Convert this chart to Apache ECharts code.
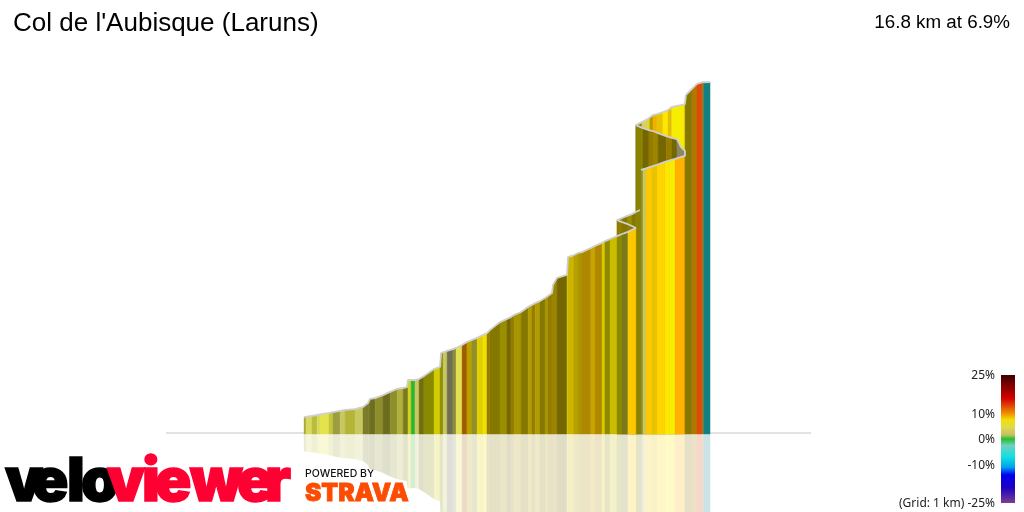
<!DOCTYPE html>
<html>
<head>
<meta charset="utf-8">
<style>html,body{margin:0;padding:0;background:#fff}#chart{width:1024px;height:512px}</style>
<script src="https://cdn.jsdelivr.net/npm/echarts@6/dist/echarts.min.js"></script>
</head>
<body>
<div id="chart"></div>
<script>
// ---- data: distance (km), elevation (m), grade tone per stripe ----
const titleText = "Col de l'Aubisque (Laruns)";
const summaryText = "16.8 km at 6.9%";
const legendLabels = ["25%", "10%", "0%", "-10%", "(Grid: 1 km) -25%"];
const legendGrades = [25, 10, 0, -10, -25];

const mainKm = [0,0.08,0.33,0.54,0.66,1.03,1.20,1.49,1.70,2.11,2.44,2.65,2.73,2.94,3.27,3.56,3.85,4.10,4.26,4.30,4.43,4.59,4.76,4.96,5.38,5.63,5.67,5.75,5.92,6.16,6.29,6.54,6.74,6.95,7.16,7.41,7.57,7.69,8.11,8.40,8.56,8.69,8.98,9.27,9.43,9.56,9.76,9.97,10.09,10.26,10.30,10.47,10.88,10.92,11.17,11.34,11.50,11.87,12.04,12.33,12.45,12.66,12.95,13.16,13.40,13.73];
const mainElev = [580,582,584,587,589,594,597,601,604,607,614,627,641,644,654,665,675,678,681,705,705,705,708,718,742,749,796,799,803,809,813,823,833,840,847,857,863,873,900,911,917,924,934,951,958,964,971,981,988,998,1025,1049,1059,1119,1126,1133,1136,1150,1157,1167,1173,1180,1190,1197,1204,1217];
const mainTone = [0,1,2,1,3,4,5,6,7,6,8,8,9,10,11,10,12,13,13,14,15,6,16,17,18,17,17,6,19,20,21,22,23,10,24,25,26,27,28,29,26,30,27,31,26,31,27,30,26,32,32,29,18,33,23,30,34,35,34,36,37,38,17,13,39];

const wedgeKm = [12.95,13.16,13.40,13.57,13.73,13.90];
const wedgeElev = [1244,1251,1259,1264,1271,1278];
const wedgeTone = [28,27,28,27,40];

const backKm = [12.95,13.16,13.40,13.57,13.73];
const backElev = [1244,1237,1230,1224,1217];
const backTone = [26,27,26,27];

const upperKm = [13.73,13.98,14.23,14.31,14.44,14.60,14.85,15.06,15.22,15.64,15.76];
const upperElev = [1564,1574,1585,1588,1598,1601,1608,1615,1625,1632,1635];
const upperTone = [40,41,42,31,43,44,45,46,47,45];

const foldKm = [13.73,14.02,14.27,14.44,14.65,14.98,15.22,15.43,15.60,15.76];
const foldElev = [1564,1554,1547,1544,1537,1527,1521,1517,1490,1477];
const foldTone = [40,29,26,32,29,26,29,48,48];

const lowerKm = [13.94,14.02,14.15,14.40,14.60,14.93,15.14,15.35,15.76];
const lowerElev = [1413,1414,1418,1425,1430,1440,1445,1450,1460];
const lowerTone = [10,6,39,44,50,45,47,49];

const topKm = [15.76,15.80,16.05,16.26,16.47,16.55,16.80];
const topElev = [1635,1665,1686,1703,1708,1709,1709];
const topTone = [27,27,51,52,53,54];

const flatKm = [-5.71,0,null,16.8,20.98];
const flatElev = [526,526,null,526,526];

// ---- styles ----
const baseElev = 523;
const palette = ['#a8a83a','#d6d860','#bcbc3c','#e3e44b','#c4c43e','#9c9c40','#c8c860','#b4b436','#7c7c2a','#6e6e22','#8e8e2c','#6c6c1e','#b0b040','#7a7a1c','#d4d420','#2cb534','#6e6e10','#8a8a00','#d2cc00','#6e6e50','#8c8c40','#e0e050','#a05a00','#b8a000','#e0d000','#f0e000','#957c00','#857800','#988e00','#746600','#a89600','#b09c00','#9c8600','#ccb400','#b08800','#c8a400','#d8c800','#908800','#ccbc00','#fcc800','#8a8200','#d8d060','#e8d800','#f0b000','#e8c400','#ffe600','#e0c000','#f5ee00','#8c8660','#ffb000','#ffd400','#b07800','#e04a08','#8a7a30','#128083'];
const gradientStops = [[0,'#3a0000'],[0.08,'#800000'],[0.18,'#d00000'],[0.235,'#e04000'],[0.30,'#f09000'],[0.35,'#f0e000'],[0.41,'#e0d850'],[0.47,'#c0c060'],[0.50,'#20c030'],[0.55,'#70d0c0'],[0.64,'#10e0e0'],[0.72,'#00a0f0'],[0.78,'#0000f0'],[0.88,'#2000c0'],[1,'#7b3f91']];
const logoLetters = [['v',5,'#000'],['e',32,'#000'],['l',67,'#000'],['o',81,'#000'],['v',107,'#ff0033'],['i',142,'#ff0033'],['e',155,'#ff0033'],['w',190,'#ff0033'],['e',237,'#ff0033'],['r',265,'#ff0033']];

function tint(hex, a) {
  const n = parseInt(hex.slice(1), 16);
  const m = c => Math.round(255 - (255 - c) * a);
  return 'rgb(' + m(n >> 16) + ',' + m((n >> 8) & 255) + ',' + m(n & 255) + ')';
}
function stripes(km, elev, tone) {
  return tone.map((t, i) => [km[i], km[i + 1], elev[i], elev[i + 1], t]);
}
function render(mirror) {
  return function (params, api) {
    const x0 = api.value(0), x1 = api.value(1);
    const e0 = api.value(2), e1 = api.value(3);
    const h = v => mirror ? 2 * baseElev - v : v;
    const col = palette[api.value(4)];
    const fill = mirror ? tint(col, 0.22) : col;
    return {
      type: 'polygon',
      shape: { points: [api.coord([x0, baseElev]), api.coord([x0, h(e0)]), api.coord([x1, h(e1)]), api.coord([x1, baseElev])] },
      style: { fill: fill, stroke: fill, lineWidth: 0.4 }
    };
  };
}
const passes = [
  ['wedge', wedgeKm, wedgeElev, wedgeTone],
  ['back', backKm, backElev, backTone],
  ['upper', upperKm, upperElev, upperTone],
  ['fold', foldKm, foldElev, foldTone],
  ['lower', lowerKm, lowerElev, lowerTone],
  ['main', mainKm, mainElev, mainTone],
  ['top', topKm, topElev, topTone]
];
function stripeSeries(p, mirror) {
  return {
    type: 'custom', name: p[0] + (mirror ? '-reflection' : ''), coordinateSystem: 'cartesian2d',
    renderItem: render(mirror), data: stripes(p[1], p[2], p[3]),
    encode: { x: [0, 1], y: [2, 3] }, silent: true, clip: true, z: mirror ? 1 : 2
  };
}
const pts = (k, e) => k.map((v, i) => [v, e[i]]);
const gap = [['-', '-']];
const outline = [].concat(
  pts(mainKm, mainElev), pts(backKm, backElev).reverse(), pts(wedgeKm, wedgeElev), gap,
  pts(lowerKm, lowerElev), pts(foldKm, foldElev).reverse(), pts(upperKm, upperElev), pts(topKm, topElev)
);

const legendY = g => 440 - g * 2.56;
const graphics = [
  { type: 'rect', shape: { x: 1001, y: 375, width: 14, height: 128 },
    style: { fill: new echarts.graphic.LinearGradient(0, 0, 0, 1, gradientStops.map(s => ({ offset: s[0], color: s[1] }))) } }
];
legendLabels.forEach((t, i) => graphics.push({
  type: 'text', x: 995, y: legendY(legendGrades[i]),
  style: { text: t, align: 'right', verticalAlign: 'middle', fill: '#222', font: '12px "Noto Sans"' }
}));
logoLetters.forEach(l => graphics.push({
  type: 'text', x: l[1], y: 483,
  style: { text: l[0], align: 'left', verticalAlign: 'middle', fill: l[2], stroke: l[2], lineWidth: 1.5, font: '900 60px Inter' }
}));
graphics.push({ type: 'text', x: 305, y: 474, style: { text: 'POWERED BY', align: 'left', verticalAlign: 'middle', fill: '#111', font: '500 10.5px Inter' } });
graphics.push({ type: 'text', x: 305, y: 494, style: { text: 'STRAVA', align: 'left', verticalAlign: 'middle', fill: '#fc4c02', stroke: '#fc4c02', lineWidth: 0.8, font: '900 24.5px Inter' } });

const chart = echarts.init(document.getElementById('chart'), null, { renderer: 'canvas' });
chart.setOption({
  animation: false,
  backgroundColor: '#fff',
  title: [
    { text: titleText, left: 8, top: 6, textStyle: { fontFamily: 'Liberation Sans', fontSize: 26, fontWeight: 'normal', color: '#000' } },
    { text: summaryText, right: 9, top: 8, textStyle: { fontFamily: 'Liberation Sans', fontSize: 18.8, fontWeight: 'normal', color: '#000' } }
  ],
  grid: { left: 0, right: 0, top: 0, bottom: 0 },
  xAxis: { type: 'value', min: -12.58, max: 29.79, show: false },
  yAxis: { type: 'value', min: 260.1, max: 1985.6, show: false },
  graphic: graphics,
  series: [
    { type: 'line', name: 'road', data: flatKm.map((k, i) => k === null ? ['-', '-'] : [k, flatElev[i]]), showSymbol: false, silent: true, z: 1,
      lineStyle: { color: '#e2e2e2', width: 2 } },
    ...passes.map(p => stripeSeries(p, true)),
    ...passes.map(p => stripeSeries(p, false)),
    { type: 'line', name: 'outline', data: outline, showSymbol: false, silent: true, z: 3,
      lineStyle: { color: '#cfcfcf', width: 1.8 } }
  ]
});
</script>
</body>
</html>
